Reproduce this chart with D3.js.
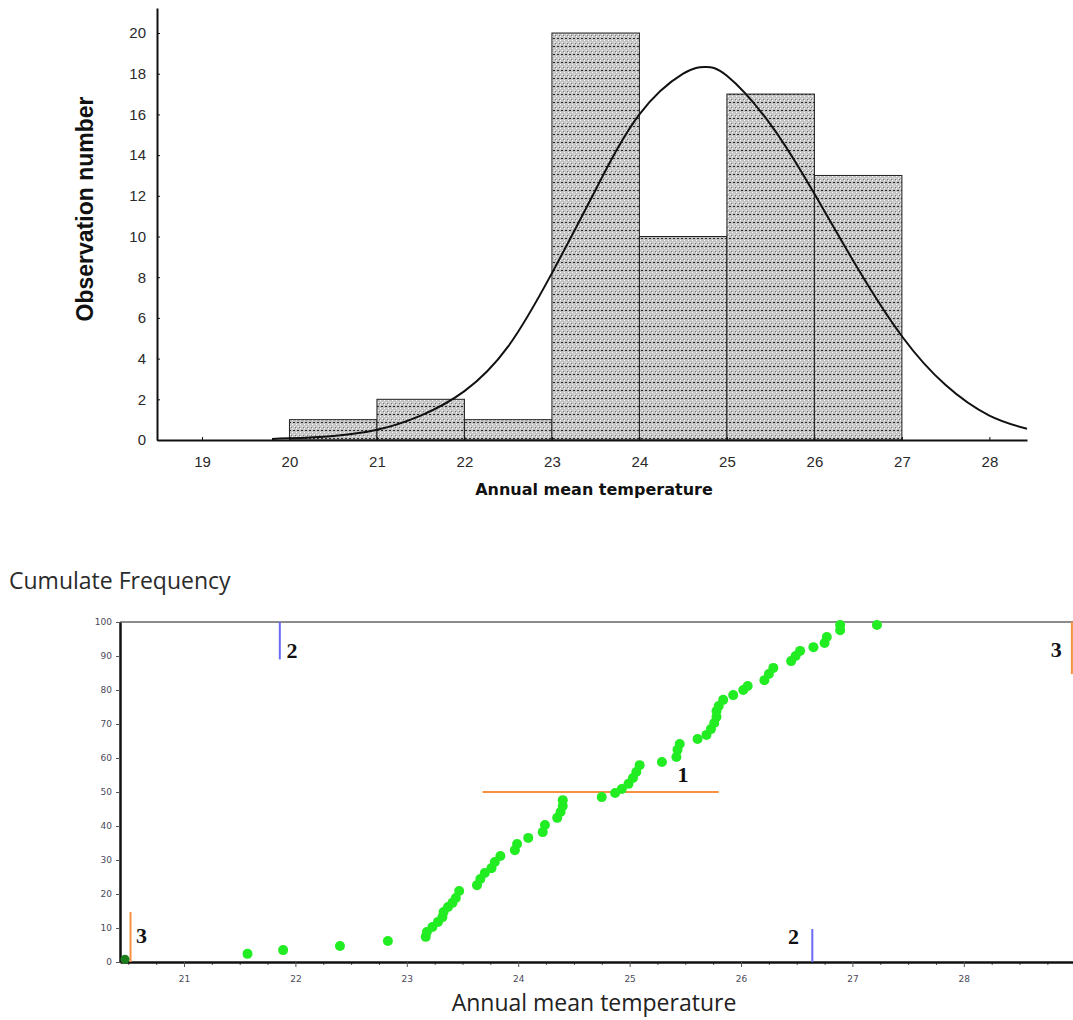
<!DOCTYPE html>
<html>
<head>
<meta charset="utf-8">
<script src="https://cdn.jsdelivr.net/npm/d3@7"></script>
<style>
  body { margin: 0; background: #fff; }
  svg { display: block; }
</style>
</head>
<body>
<div id="chart"></div>
<script>
'use strict';

// histogram bins (lower edge of each 1-degree class) and counts
var binStarts = [20, 21, 22, 23, 24, 25, 26];
var binCounts = [1, 2, 1, 20, 10, 17, 13];

// fitted curve
var curveTemp = [19.8, 20, 20.5, 21, 21.5, 22, 22.5, 23, 23.5, 24, 24.5, 24.75, 25, 25.5, 26, 26.5, 27, 27.5, 28, 28.43];
var curveCount = [0.05, 0.08, 0.2, 0.5, 1.2, 2.4, 4.6, 8.2, 12.3, 16.0, 18.0, 18.33, 17.9, 15.5, 12.1, 8.4, 5.1, 2.7, 1.2, 0.55];

var histXTicks = [19, 20, 21, 22, 23, 24, 25, 26, 27, 28];
var histYTicks = [0, 2, 4, 6, 8, 10, 12, 14, 16, 18, 20];

// cumulative frequency points
var cumTemp = [21.57, 21.89, 22.40, 22.83, 23.17, 23.18, 23.23, 23.28, 23.32, 23.33, 23.37, 23.41, 23.44, 23.47,
  23.63, 23.66, 23.70, 23.76, 23.79, 23.84, 23.97, 23.99, 24.09, 24.22, 24.24, 24.35, 24.38, 24.40, 24.40,
  24.75, 24.87, 24.93, 24.99, 25.03, 25.06, 25.09, 25.29, 25.42, 25.43, 25.45, 25.61, 25.69, 25.73, 25.76,
  25.78, 25.78, 25.80, 25.84, 25.93, 26.02, 26.06, 26.21, 26.25, 26.29, 26.45, 26.49, 26.53, 26.65, 26.75,
  26.77, 26.89, 26.89, 27.22];
var cumFreq = [2.4, 3.5, 4.7, 6.2, 7.4, 8.8, 10.3, 11.8, 13.2, 14.7, 16.2, 17.4, 18.8, 20.9,
  22.6, 24.4, 26.2, 27.6, 29.4, 31.2, 32.9, 34.7, 36.5, 38.2, 40.3, 42.4, 44.1, 45.9, 47.6,
  48.5, 49.7, 50.9, 52.4, 54.1, 55.9, 57.9, 58.8, 60.3, 62.4, 64.1, 65.6, 66.8, 68.5, 70.3,
  72.1, 73.8, 75.3, 77.1, 78.5, 80.0, 81.2, 82.9, 84.7, 86.5, 88.5, 90.0, 91.5, 92.6, 93.8,
  95.6, 97.6, 99.1, 99.1];
var originTemp = [20.47];
var originFreq = [0.8];

var cumXTicks = [21, 22, 23, 24, 25, 26, 27, 28];
var cumYTicks = [0, 10, 20, 30, 40, 50, 60, 70, 80, 90, 100];

// annotation marks: 1 = median line, 2 = blue bounds, 3 = orange bounds
var annoLines = [
  { x1: 23.68, y1: 50, x2: 25.80, y2: 50, kind: 'orange' },
  { x1: 21.86, y1: 89, x2: 21.86, y2: 100, kind: 'blue' },
  { x1: 26.64, y1: 0, x2: 26.64, y2: 9.7, kind: 'blue' },
  { x1: 20.52, y1: 0, x2: 20.52, y2: 14.7, kind: 'orange' },
  { x1: 28.97, y1: 84.7, x2: 28.97, y2: 100, kind: 'orange' }
];
var annoLabels = [
  { x: 25.48, y: 52.9, text: '1', anchor: 'middle', weight: 'bold' },
  { x: 21.92, y: 89.4, text: '2', anchor: 'start', weight: 'bold' },
  { x: 26.47, y: 5.3, text: '2', anchor: 'middle', weight: 'bold' },
  { x: 20.57, y: 5.6, text: '3', anchor: 'start', weight: 'bold' },
  { x: 28.83, y: 89.7, text: '3', anchor: 'middle', weight: 'bold' }
];

var W = 1073, H = 1020;
var svg = d3.select('#chart').append('svg').attr('width', W).attr('height', H);

// ---------- stipple pattern for the bars ----------
var defs = svg.append('defs');
var pat = defs.append('pattern')
  .attr('id', 'stipple')
  .attr('patternUnits', 'userSpaceOnUse')
  .attr('width', 4)
  .attr('height', 8);
pat.append('rect').attr('width', 4).attr('height', 8).attr('fill', '#c4c4c4');
pat.append('rect').attr('x', 0).attr('y', 0).attr('width', 1).attr('height', 1).attr('fill', '#ffffff');
pat.append('rect').attr('x', 2).attr('y', 2).attr('width', 1).attr('height', 1).attr('fill', '#ffffff');
pat.append('rect').attr('x', 0).attr('y', 4).attr('width', 1).attr('height', 1).attr('fill', '#ffffff');
pat.append('rect').attr('x', 1).attr('y', 6).attr('width', 2).attr('height', 1).attr('fill', '#2a2a2a');
pat.append('rect').attr('x', 3).attr('y', 3).attr('width', 1).attr('height', 1).attr('fill', '#7a7a7a');

// ---------- top: histogram ----------
var hx = d3.scaleLinear().domain([18.486, 28.43]).range([157, 1027]);
var hy = d3.scaleLinear().domain([0, 21.23]).range([440, 8]);

var histG = svg.append('g');

histG.selectAll('rect.bar')
  .data(binStarts)
  .enter().append('rect')
  .attr('class', 'bar')
  .attr('x', function (d) { return hx(d); })
  .attr('y', function (d, i) { return hy(binCounts[i]); })
  .attr('width', function (d) { return hx(d + 1) - hx(d); })
  .attr('height', function (d, i) { return hy(0) - hy(binCounts[i]); })
  .attr('fill', 'url(#stipple)')
  .attr('stroke', '#222')
  .attr('stroke-width', 1);

var line = d3.line()
  .x(function (d, i) { return hx(curveTemp[i]); })
  .y(function (d) { return hy(d); })
  .curve(d3.curveNatural);

histG.append('path')
  .attr('d', line(curveCount))
  .attr('fill', 'none')
  .attr('stroke', '#111')
  .attr('stroke-width', 2);

var hxAxis = histG.append('g')
  .attr('transform', 'translate(0,' + hy(0) + ')')
  .call(d3.axisBottom(hx).tickValues(histXTicks).tickSize(-3).tickPadding(16).tickSizeOuter(0));
var hyAxis = histG.append('g')
  .attr('transform', 'translate(' + hx.range()[0] + ',0)')
  .call(d3.axisLeft(hy).tickValues(histYTicks).tickSize(-3).tickPadding(11).tickSizeOuter(0));

[hxAxis, hyAxis].forEach(function (a) {
  a.select('.domain').attr('stroke', '#111').attr('stroke-width', 2);
  a.selectAll('.tick line').attr('stroke', '#111');
  a.selectAll('.tick text')
    .attr('fill', '#2a2a2a')
    .style('font-family', 'Liberation Sans, Arial, sans-serif')
    .style('font-size', '15px');
});

histG.append('text')
  .attr('transform', 'translate(93,209) rotate(-90)')
  .attr('text-anchor', 'middle')
  .style('font-family', 'Liberation Sans, Arial, sans-serif')
  .style('font-size', '23px')
  .style('font-weight', 'bold')
  .attr('fill', '#111')
  .text('Observation number');

histG.append('text')
  .attr('x', 594)
  .attr('y', 495)
  .attr('text-anchor', 'middle')
  .style('font-family', 'DejaVu Sans, Verdana, sans-serif')
  .style('font-size', '16px')
  .style('font-weight', 'bold')
  .attr('fill', '#111')
  .text('Annual mean temperature');

// ---------- bottom: cumulative frequency ----------
var cx = d3.scaleLinear().domain([20.4255, 28.98]).range([120, 1073]);
var cy = d3.scaleLinear().domain([0, 100]).range([962, 622]);

var cumG = svg.append('g');

cumG.append('text')
  .attr('x', 9)
  .attr('y', 589)
  .style('font-family', 'Open Sans, sans-serif')
  .style('font-size', '23px')
  .attr('fill', '#2b2b2b')
  .text('Cumulate Frequency');

// grey frame line on top of the plot
cumG.append('line')
  .attr('x1', cx.range()[0]).attr('x2', cx.range()[1])
  .attr('y1', cy(100)).attr('y2', cy(100))
  .attr('stroke', '#8c8c8c')
  .attr('stroke-width', 2);

var minorTicks = d3.range(20.5, 29, 0.25).filter(function (v) { return cumXTicks.indexOf(v) < 0; });
cumG.append('g')
  .attr('transform', 'translate(0,' + cy(0) + ')')
  .call(d3.axisBottom(cx).tickValues(minorTicks).tickSize(3).tickFormat(''))
  .call(function (g) { g.select('.domain').remove(); g.selectAll('line').attr('stroke', '#555'); });

var cxAxis = cumG.append('g')
  .attr('transform', 'translate(0,' + cy(0) + ')')
  .call(d3.axisBottom(cx).tickValues(cumXTicks).tickSize(5).tickPadding(9).tickSizeOuter(0));
var cyAxis = cumG.append('g')
  .attr('transform', 'translate(' + cx.range()[0] + ',0)')
  .call(d3.axisLeft(cy).tickValues(cumYTicks).tickSize(4).tickPadding(4).tickSizeOuter(0));

[cxAxis, cyAxis].forEach(function (a) {
  a.select('.domain').attr('stroke', '#111').attr('stroke-width', 2.5);
  a.selectAll('.tick line').attr('stroke', '#555');
  a.selectAll('.tick text')
    .attr('fill', '#4a4a5a')
    .style('font-family', 'DejaVu Sans, sans-serif')
    .style('font-size', '9px');
});

cumG.append('text')
  .attr('x', 594)
  .attr('y', 1011)
  .attr('text-anchor', 'middle')
  .style('font-family', 'Open Sans, sans-serif')
  .style('font-size', '23px')
  .attr('fill', '#222')
  .text('Annual mean temperature');

var colors = { orange: '#f7913f', blue: '#6a6af5' };

cumG.selectAll('line.anno')
  .data(annoLines)
  .enter().append('line')
  .attr('class', 'anno')
  .attr('x1', function (d) { return cx(d.x1); })
  .attr('x2', function (d) { return cx(d.x2); })
  .attr('y1', function (d) { return cy(d.y1); })
  .attr('y2', function (d) { return cy(d.y2); })
  .attr('stroke', function (d) { return colors[d.kind]; })
  .attr('stroke-width', 2);

cumG.selectAll('circle.pt')
  .data(cumFreq)
  .enter().append('circle')
  .attr('class', 'pt')
  .attr('cx', function (d, i) { return cx(cumTemp[i]); })
  .attr('cy', function (d) { return cy(d); })
  .attr('r', 5)
  .attr('fill', '#22ec22');

cumG.selectAll('circle.origin')
  .data(originFreq)
  .enter().append('circle')
  .attr('class', 'origin')
  .attr('cx', function (d, i) { return cx(originTemp[i]); })
  .attr('cy', function (d) { return cy(d); })
  .attr('r', 4.5)
  .attr('fill', '#1b7d1b');

cumG.selectAll('text.anno')
  .data(annoLabels)
  .enter().append('text')
  .attr('class', 'anno')
  .attr('x', function (d) { return cx(d.x); })
  .attr('y', function (d) { return cy(d.y); })
  .attr('text-anchor', function (d) { return d.anchor; })
  .style('font-family', 'Liberation Serif, Times New Roman, serif')
  .style('font-size', '22px')
  .style('font-weight', function (d) { return d.weight; })
  .attr('fill', '#111')
  .text(function (d) { return d.text; });
</script>
</body>
</html>
